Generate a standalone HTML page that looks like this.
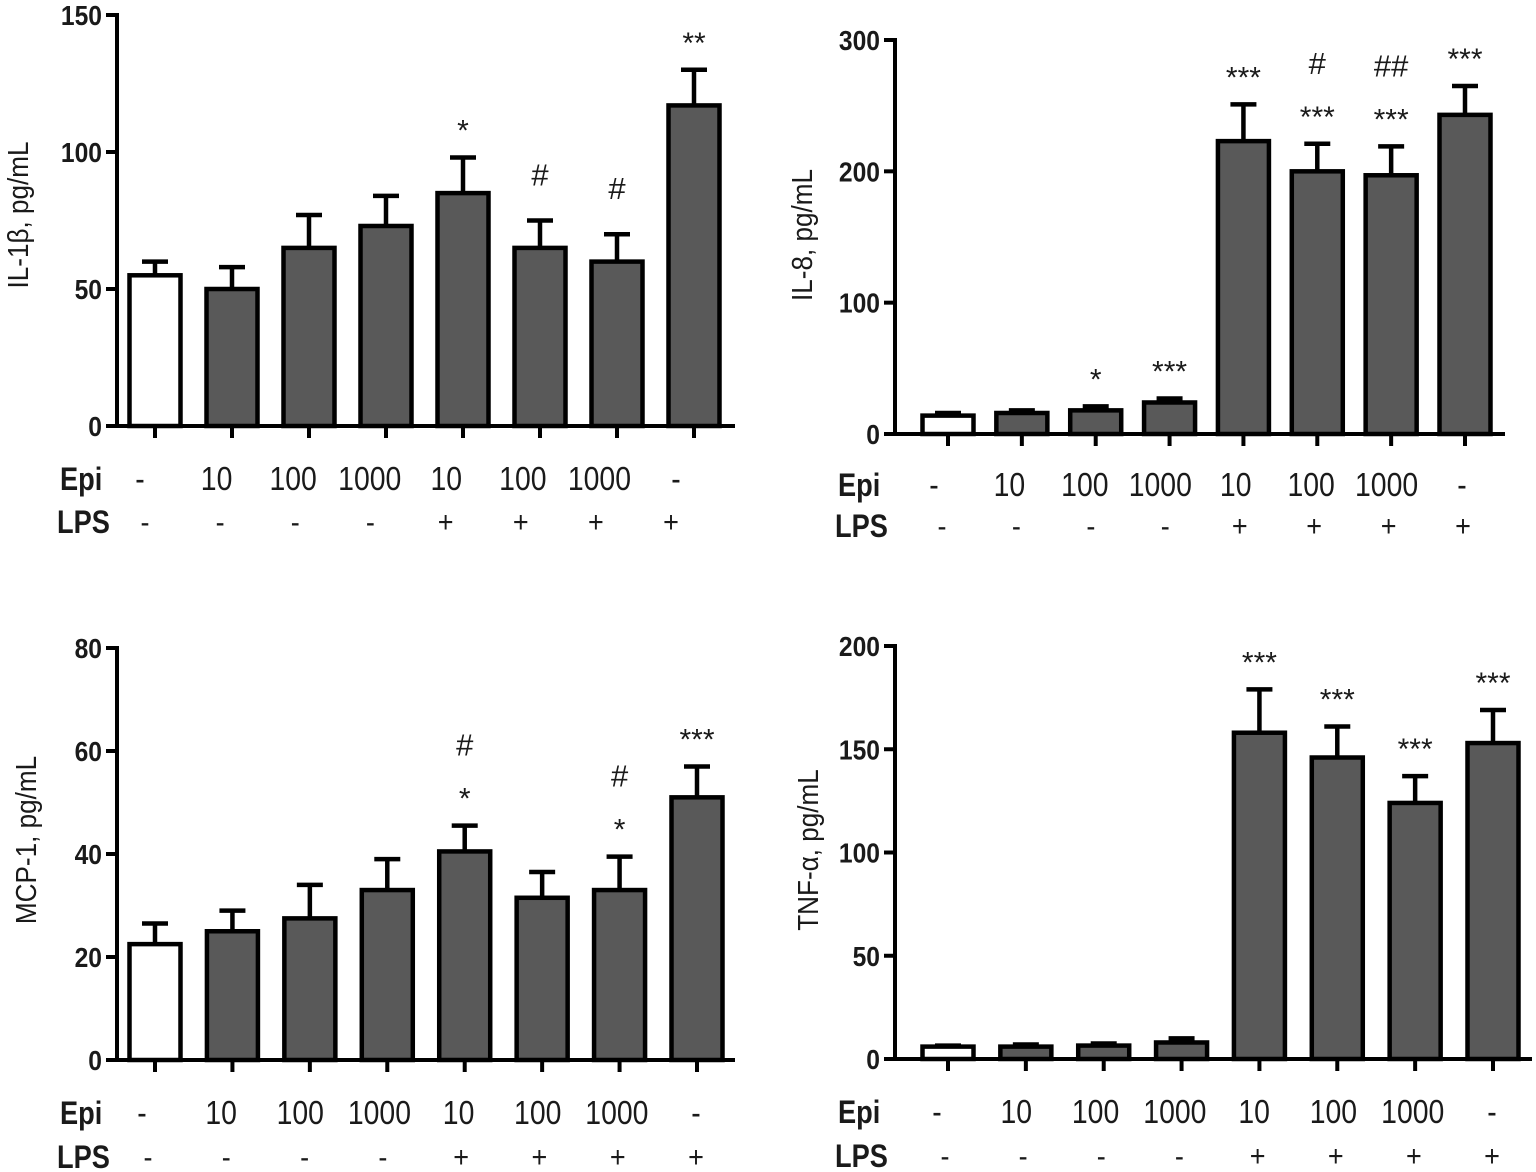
<!DOCTYPE html>
<html><head><meta charset="utf-8"><style>
body{margin:0;background:#fff;width:1536px;height:1172px;overflow:hidden}
svg{position:absolute;left:0;top:0}
text{font-family:"Liberation Sans",sans-serif;fill:#1a1a1a}
</style></head><body>
<svg id="fig" width="1536" height="1172"></svg>
<script>
const epiLabels=["-","10","100","1000","10","100","1000","-"];
const lpsLabels=["-","-","-","-","+","+","+","+"];
const il1bValues=[55,50,65,73,85,65,60,117];
const il1bErr=[5,8,12,11,13,10,10,13];
const il1bTicks=[0,50,100,150];
const il1bSig=[[],[],[],[],["*"],["#"],["#"],["**"]];
const il8Values=[14,16,18,24,223,200,197,243];
const il8Err=[2,2,3,3,28,21,22,22];
const il8Ticks=[0,100,200,300];
const il8Sig=[[],[],["*"],["***"],["***"],["***","#"],["***","##"],["***"]];
const mcpValues=[22.5,25,27.5,33,40.5,31.5,33,51];
const mcpErr=[4,4,6.5,6,5,5,6.5,6];
const mcpTicks=[0,20,40,60,80];
const mcpSig=[[],[],[],[],["*","#"],[],["*","#"],["***"]];
const tnfValues=[6,6,6.5,8,158,146,124,153];
const tnfErr=[0.5,1,1,2,21,15,13,16];
const tnfTicks=[0,50,100,150,200];
const tnfSig=[[],[],[],[],["***"],["***"],["***"],["***"]];

const NS="http://www.w3.org/2000/svg";
const svg=document.getElementById('fig');
function mk(tag,attrs,parent){const e=document.createElementNS(NS,tag);for(const k in attrs)e.setAttribute(k,attrs[k]);(parent||svg).appendChild(e);return e;}
function ctext(g,x,y,s,size,weight,sx,anchor){
  const t=mk('text',{x:0,y:0,transform:`translate(${x},${y}) scale(${sx},1)`,'text-anchor':anchor||'middle','font-size':size,'font-weight':weight||'normal'},g);
  t.textContent=s;return t;
}

function panel(p){
  const g=mk('g',{});
  
  
  const ymax=p.ticks[p.ticks.length-1];
  const y=v=>p.y0-(p.y0-p.yTop)*v/ymax;
  const ax=mk('line',{x1:p.ax,y1:p.yTop-2,x2:p.ax,y2:p.y0+2,stroke:'#000','stroke-width':4},g);
  
  
  p.ticks.forEach(t=>{
    mk('line',{x1:p.ax-11,y1:y(t),x2:p.ax,y2:y(t),stroke:'#000','stroke-width':4},g);
    const tx=ctext(g,p.ax-15,y(t)+10,String(t),28,'bold',0.88,'end');
    
    
  });
  const xa=mk('line',{x1:p.ax,y1:p.y0,x2:p.xEnd,y2:p.y0,stroke:'#000','stroke-width':4},g);
  
  
  const yl=mk('text',{x:0,y:0,transform:`translate(${p.ylx},${p.yly}) rotate(-90) scale(0.9,1)`,'text-anchor':'middle','font-size':29},g);
  yl.textContent=p.ylabel;
  
  
  const n=p.values.length;
  const step=(p.lastC-p.firstC)/(n-1);
  const eStep=(p.epiLast-p.epiFirst)/(n-1);
  const lStep=(p.lpsLast-p.lpsFirst)/(n-1);
  const bw=51;
  p.values.forEach((v,i)=>{
    const cx=p.firstC+i*step;
    const top=y(v+p.err[i]);
    mk('line',{x1:cx,y1:y(v),x2:cx,y2:top,stroke:'#000','stroke-width':4.5},g);
    mk('line',{x1:cx-13,y1:top,x2:cx+13,y2:top,stroke:'#000','stroke-width':4.5},g);
    const r=mk('rect',{x:cx-bw/2,y:y(v),width:bw,height:p.y0-y(v),fill:i===0?'#fff':'#595959',stroke:'#000','stroke-width':4.5},g);
    
    
    mk('line',{x1:cx,y1:p.y0,x2:cx,y2:p.y0+12,stroke:'#000','stroke-width':4},g);
    let center=top;
    p.sig[i].forEach((s,k)=>{
      const isHash=s[0]==='#';
      center=center-(k===0?(isHash?46:36):45);
      const st=ctext(g,cx,isHash?center+11:center+19,s,isHash?31:30,'normal',1);
      
      
    });
    const e=ctext(g,p.epiFirst+i*eStep,p.epiY,epiLabels[i],33,'normal',0.86);
    
    
    const l=ctext(g,p.lpsFirst+i*lStep,p.lpsY,lpsLabels[i],30,'normal',0.9);
    
    
  });
  const ep=ctext(g,p.ax-57,p.epiY,'Epi',32,'bold',0.85,'start');
  
  
  const lp=ctext(g,p.ax-60,p.lpsY+1,'LPS',32,'bold',0.85,'start');
  
  
}
panel({name:'il1b-chart',values:il1bValues,err:il1bErr,ticks:il1bTicks,sig:il1bSig,ax:117,y0:426,yTop:15,xEnd:735,firstC:155,lastC:694,ylabel:'IL-1β, pg/mL',ylx:28,yly:215,epiY:490,lpsY:532,epiFirst:140,epiLast:676,lpsFirst:145,lpsLast:671});
panel({name:'il8-chart',values:il8Values,err:il8Err,ticks:il8Ticks,sig:il8Sig,ax:895,y0:434,yTop:40,xEnd:1505,firstC:948,lastC:1465,ylabel:'IL-8, pg/mL',ylx:812,yly:235,epiY:496,lpsY:536,epiFirst:934,epiLast:1462,lpsFirst:942,lpsLast:1463});
panel({name:'mcp1-chart',values:mcpValues,err:mcpErr,ticks:mcpTicks,sig:mcpSig,ax:117,y0:1060,yTop:648,xEnd:735,firstC:155,lastC:697,ylabel:'MCP-1, pg/mL',ylx:36,yly:840,epiY:1124,lpsY:1167,epiFirst:142,epiLast:696,lpsFirst:148,lpsLast:696});
panel({name:'tnfa-chart',values:tnfValues,err:tnfErr,ticks:tnfTicks,sig:tnfSig,ax:895,y0:1059,yTop:646,xEnd:1532,firstC:948,lastC:1493,ylabel:'TNF-α, pg/mL',ylx:818,yly:850,epiY:1123,lpsY:1166,epiFirst:937,epiLast:1492,lpsFirst:945,lpsLast:1492});
</script>
</body></html>
